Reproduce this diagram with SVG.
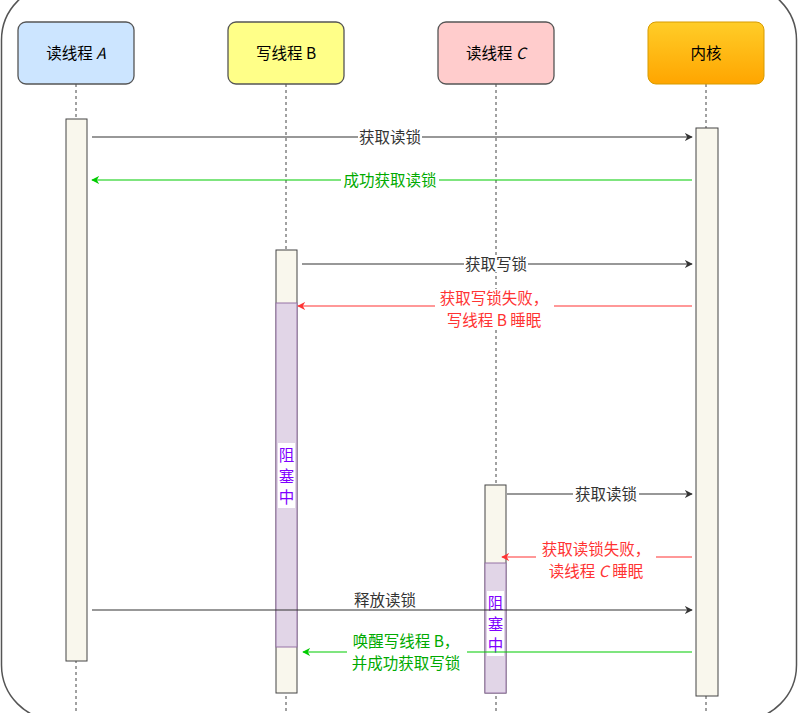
<svg xmlns="http://www.w3.org/2000/svg" width="809" height="713" viewBox="0 0 809 713">
<defs>
<linearGradient id="kg" x1="0" y1="0" x2="0" y2="1"><stop offset="0" stop-color="#ffcd28"/><stop offset="1" stop-color="#ffa500"/></linearGradient>
<marker id="ab" viewBox="0 0 10 10" refX="9" refY="5" markerWidth="8" markerHeight="8" markerUnits="userSpaceOnUse" orient="auto"><path d="M0,0 L10,5 L0,10 L3,5 Z" fill="#333"/></marker>
<marker id="ag" viewBox="0 0 10 10" refX="9" refY="5" markerWidth="8" markerHeight="8" markerUnits="userSpaceOnUse" orient="auto"><path d="M0,0 L10,5 L0,10 L3,5 Z" fill="#00cc00"/></marker>
<marker id="ar" viewBox="0 0 10 10" refX="9" refY="5" markerWidth="8" markerHeight="8" markerUnits="userSpaceOnUse" orient="auto"><path d="M0,0 L10,5 L0,10 L3,5 Z" fill="#ff3333"/></marker>
</defs>
<style>
text{font-family:"Noto Sans CJK SC","Liberation Sans",sans-serif;font-size:15.5px;text-anchor:middle}
.node{stroke:#555;stroke-width:1.3}
.life{stroke:#444;stroke-width:1;stroke-dasharray:3 3;fill:none}
.act{fill:#f9f7ed;stroke:#444;stroke-width:1}
.blk{fill:#e1d5e7;stroke:#9673a6;stroke-width:1}
.m{fill:none;stroke-width:1.2}
.k{stroke:#333}
.g{stroke:#00cc00}
.r{stroke:#ff3333}
.tk{fill:#333}
.tg{fill:#00aa00}
.tr{fill:#ff3333}
.tp{fill:#7f00ff}
.bg{fill:#fff}
</style>
<rect x="1.5" y="-15" width="795" height="735" rx="55" fill="none" stroke="#555" stroke-width="1.5"/>
<g id="lifelines">
<line class="life" x1="76" y1="84" x2="76" y2="713"/>
<line class="life" x1="286" y1="84" x2="286" y2="713"/>
<line class="life" x1="496" y1="84" x2="496" y2="713"/>
<line class="life" x1="706" y1="84" x2="706" y2="713"/>
</g>
<g id="threadA"><rect class="node" x="18" y="22" width="116" height="62" rx="8" fill="#cce5ff"/><text x="76" y="59">读线程 <tspan font-style="italic">A</tspan></text></g>
<g id="threadB"><rect class="node" x="228" y="22" width="116" height="62" rx="8" fill="#ffff88"/><text x="286" y="59">写线程 B</text></g>
<g id="threadC"><rect class="node" x="438" y="22" width="116" height="62" rx="8" fill="#ffcccc"/><text x="496" y="59">读线程 <tspan font-style="italic">C</tspan></text></g>
<g id="kernel"><rect x="648" y="22" width="116" height="62" rx="8" fill="url(#kg)" stroke="#d79b00" stroke-width="1"/><text x="706" y="59">内核</text></g>
<g id="actA"><rect class="act" x="66" y="119" width="21" height="542"/></g>
<g id="actK"><rect class="act" x="696" y="128" width="22" height="568"/></g>
<g id="actB"><rect class="act" x="276" y="250" width="21" height="443"/><rect class="blk" x="276" y="303" width="21" height="344"/><rect class="bg" x="278" y="443" width="17" height="65"/><text class="tp" x="286.5" y="461">阻</text><text class="tp" x="286.5" y="482">塞</text><text class="tp" x="286.5" y="503">中</text></g>
<g id="actC"><rect class="act" x="485" y="485" width="21" height="208"/><rect class="blk" x="485" y="563" width="21" height="130"/><rect class="bg" x="487" y="591" width="17" height="65"/><text class="tp" x="495.5" y="609">阻</text><text class="tp" x="495.5" y="630">塞</text><text class="tp" x="495.5" y="651">中</text></g>
<g id="connectors">
<line class="m k" x1="92" y1="137" x2="692" y2="137" marker-end="url(#ab)"/>
<rect class="bg" x="358" y="129" width="64" height="16"/><text class="tk" x="390" y="143">获取读锁</text>
<line class="m g" x1="692" y1="180" x2="92" y2="180" marker-end="url(#ag)"/>
<rect class="bg" x="341" y="172" width="98" height="16"/><text class="tg" x="390" y="186">成功获取读锁</text>
<line class="m k" x1="302" y1="264" x2="692" y2="264" marker-end="url(#ab)"/>
<rect class="bg" x="464" y="256" width="64" height="16"/><text class="tk" x="496" y="270">获取写锁</text>
<line class="m r" x1="692" y1="306" x2="298" y2="306" marker-end="url(#ar)"/>
<rect class="bg" x="435" y="289" width="119" height="40"/><text class="tr" x="494" y="304">获取写锁失败，</text><text class="tr" x="494" y="326">写线程 B 睡眠</text>
<line class="m k" x1="507" y1="494" x2="692" y2="494" marker-end="url(#ab)"/>
<rect class="bg" x="573" y="486" width="66" height="16"/><text class="tk" x="606" y="500">获取读锁</text>
<line class="m r" x1="692" y1="557" x2="502" y2="557" marker-end="url(#ar)"/>
<rect class="bg" x="536" y="540" width="120" height="40"/><text class="tr" x="596" y="555">获取读锁失败，</text><text class="tr" x="596" y="577">读线程 <tspan font-style="italic">C</tspan> 睡眠</text>
<line class="m k" x1="92" y1="610" x2="692" y2="610" marker-end="url(#ab)"/>
<text class="tk" x="385" y="606">释放读锁</text>
<line class="m g" x1="692" y1="652" x2="303" y2="652" marker-end="url(#ag)"/>
<rect class="bg" x="347" y="633" width="120" height="40"/><text class="tg" x="406" y="647">唤醒写线程 B，</text><text class="tg" x="406" y="669">并成功获取写锁</text>
</g>
</svg>
